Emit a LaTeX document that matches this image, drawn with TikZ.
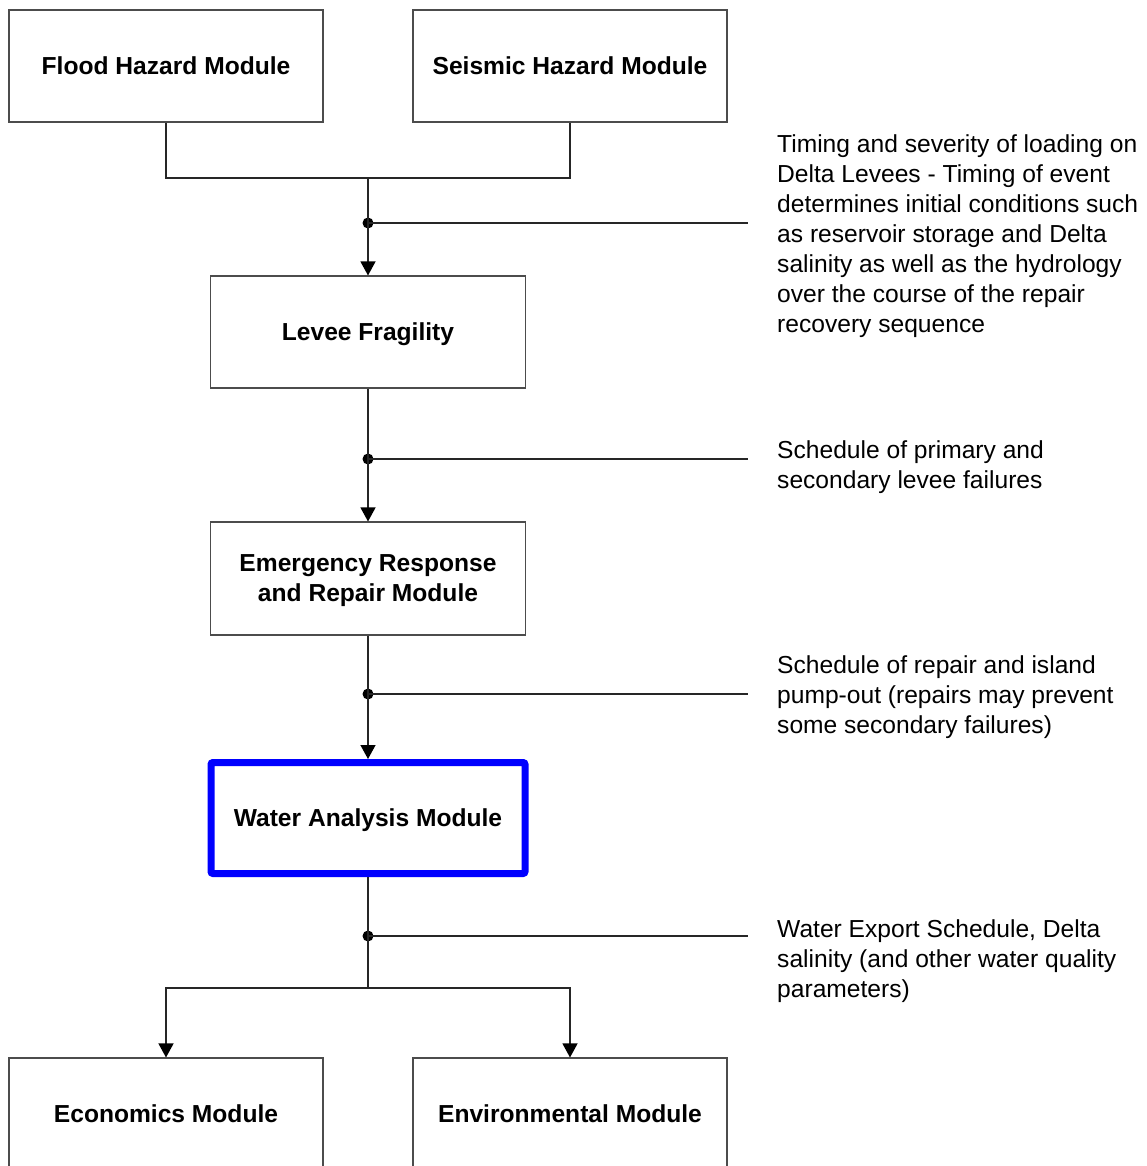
\documentclass[tikz,border=0pt]{standalone}
\usepackage{fontspec}
\setmainfont{Liberation Sans}
\usetikzlibrary{arrows.meta}
\newcommand{\lowtxt}[1]{\raisebox{-2pt}[\height][\depth]{#1}}
\begin{document}
\begin{tikzpicture}[x=1pt,y=-1pt,
  line/.style={draw=black!85,line width=1.3pt},
  arr/.style={line,-{Triangle[width=15pt,length=14pt,color=black,fill=black]}},
  modbox/.style={draw=black!70,line width=1.1pt,minimum width=314pt,minimum height=112pt,
    inner sep=0pt,align=center,font=\fontsize{24.6}{30}\selectfont\bfseries},
  hibox/.style={modbox,draw=blue,line width=7pt,rounded corners=2pt,minimum width=314pt,minimum height=111pt},
  note/.style={anchor=north west,inner sep=0pt,align=left,font=\fontsize{24.6}{30}\selectfont},
  jdot/.style={circle,fill=black,inner sep=0pt,minimum size=11pt}
]
\useasboundingbox (0,0) rectangle (1146,1166);
\clip (0,0) rectangle (1146,1166);

\node[modbox] (flood) at (166,66) {Flood Hazard Module};
\node[modbox] (seismic) at (570,66) {Seismic Hazard Module};
\node[modbox,minimum width=315pt] (levee) at (368,332) {\lowtxt{Levee Fragility}};
\node[modbox,minimum width=315pt,minimum height=113pt] (emerg) at (368,578.5) {\lowtxt{Emergency Response}\\\lowtxt{and Repair Module}};
\node[hibox] (water) at (368,818) {\lowtxt{Water Analysis Module}};
\node[modbox] (econ) at (166,1114) {Economics Module};
\node[modbox] (env) at (570,1114) {Environmental Module};

\coordinate (j1) at (368,178);
\coordinate (j4) at (368,988);
\node[jdot] (d1) at (368,223) {};
\node[jdot] (d2) at (368,459) {};
\node[jdot] (d3) at (368,694) {};
\node[jdot] (d4) at (368,936) {};
\coordinate (e1) at (748,223);
\coordinate (e2) at (748,459);
\coordinate (e3) at (748,694);
\coordinate (e4) at (748,936);

\draw[line] (flood.south) |- (j1) -| (seismic.south);
\draw[arr] (j1) -- (levee.north);
\draw[line] (d1.center) -- (e1);
\draw[arr] (levee.south) -- (emerg.north);
\draw[line] (d2.center) -- (e2);
\draw[arr] (emerg.south) -- (water.north);
\draw[line] (d3.center) -- (e3);
\draw[line] (water.south) -- (j4);
\draw[line] (d4.center) -- (e4);
\draw[arr] (j4) -| (econ.north);
\draw[arr] (j4) -| (env.north);

\node[note] (n1) at (777,134) {Timing and severity of loading on\\Delta Levees - Timing of event\\determines initial conditions such\\as reservoir storage and Delta\\salinity as well as the hydrology\\over the course of the repair\\recovery sequence};
\node[note] (n2) at (777,440) {Schedule of primary and\\secondary levee failures};
\node[note] (n3) at (777,655) {Schedule of repair and island\\pump-out (repairs may prevent\\some secondary failures)};
\node[note] (n4) at (777,919) {Water Export Schedule, Delta\\salinity (and other water quality\\parameters)};
\end{tikzpicture}
\end{document}
